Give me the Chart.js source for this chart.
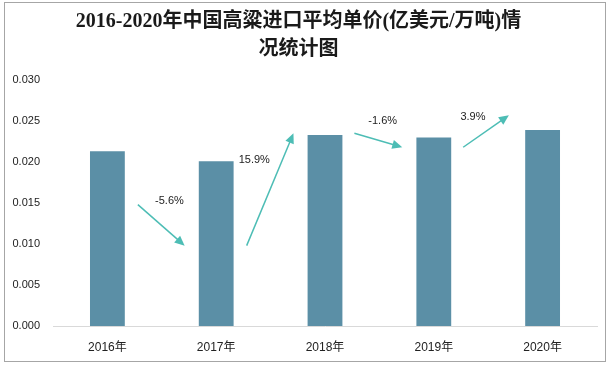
<!DOCTYPE html>
<html>
<head>
<meta charset="utf-8">
<script src="https://cdn.jsdelivr.net/npm/chart.js@4/dist/chart.umd.min.js"></script>
<style>
html,body{margin:0;padding:0;background:#fff;}
#wrap{position:relative;width:612px;height:368px;}
#frame{position:absolute;left:4px;top:2px;width:602px;height:360px;border:1px solid #a6a6a6;box-sizing:border-box;pointer-events:none;}
</style>
</head>
<body>
<div id="wrap"><canvas id="c" width="612" height="368"></canvas><div id="frame"></div></div>
<script>
// ---- data ----
const categories = ["2016年", "2017年", "2018年", "2019年", "2020年"];
const unitPrice = [0.0213, 0.0201, 0.0233, 0.0230, 0.0239];
const growthLabels = ["-5.6%", "15.9%", "-1.6%", "3.9%"];
const yTicks = [0, 0.005, 0.010, 0.015, 0.020, 0.025, 0.030];

// arrow annotation geometry in data units (x = category index, y = value)
const arrowGeom = [
  {x0: 0.28, y0: 0.0148, x1: 0.71, y1: 0.0098, lx: 0.57, ly: 0.0152},
  {x0: 1.28, y0: 0.0098, x1: 1.71, y1: 0.0235, lx: 1.35, ly: 0.0202},
  {x0: 2.27, y0: 0.0235, x1: 2.71, y1: 0.0218, lx: 2.53, ly: 0.0250},
  {x0: 3.27, y0: 0.0218, x1: 3.69, y1: 0.0257, lx: 3.36, ly: 0.0255}
];

const arrowPlugin = {
  id: 'arrows',
  afterDatasetsDraw(chart) {
    const {ctx, scales: {x, y}} = chart;
    const step = x.getPixelForValue(1) - x.getPixelForValue(0);
    const px = v => x.getPixelForValue(0) + v * step;
    ctx.save();
    arrowGeom.forEach((g, i) => {
      const X0 = px(g.x0), Y0 = y.getPixelForValue(g.y0);
      const X1 = px(g.x1), Y1 = y.getPixelForValue(g.y1);
      const ang = Math.atan2(Y1 - Y0, X1 - X0);
      const hl = 10, hw = 4.5;
      ctx.strokeStyle = '#4dbdb5';
      ctx.fillStyle = '#4dbdb5';
      ctx.lineWidth = 1.5;
      ctx.beginPath();
      ctx.moveTo(X0, Y0);
      ctx.lineTo(X1 - (hl - 2) * Math.cos(ang), Y1 - (hl - 2) * Math.sin(ang));
      ctx.stroke();
      ctx.beginPath();
      ctx.moveTo(X1, Y1);
      ctx.lineTo(X1 - hl * Math.cos(ang) + hw * Math.sin(ang), Y1 - hl * Math.sin(ang) - hw * Math.cos(ang));
      ctx.lineTo(X1 - hl * Math.cos(ang) - hw * Math.sin(ang), Y1 - hl * Math.sin(ang) + hw * Math.cos(ang));
      ctx.closePath();
      ctx.fill();
      ctx.fillStyle = '#222';
      ctx.font = '11px "Liberation Sans", "Noto Sans", sans-serif';
      ctx.textAlign = 'center';
      ctx.textBaseline = 'middle';
      ctx.fillText(growthLabels[i], px(g.lx), y.getPixelForValue(g.ly));
    });
    ctx.restore();
  }
};

new Chart(document.getElementById('c'), {
  type: 'bar',
  data: {
    labels: categories,
    datasets: [{
      data: unitPrice,
      backgroundColor: '#5b8fa6',
      borderColor: '#4f8199',
      borderWidth: 0,
      categoryPercentage: 0.64,
      barPercentage: 0.5
    }]
  },
  options: {
    responsive: false,
    animation: false,
    devicePixelRatio: 1,
    layout: {padding: {left: 0, right: 15, top: 8, bottom: 8}},
    plugins: {
      legend: {display: false},
      tooltip: {enabled: false},
      title: {
        display: true,
        text: ['2016-2020年中国高粱进口平均单价(亿美元/万吨)情', '况统计图'],
        color: '#1a1a1a',
        font: {family: '"Liberation Serif", "Noto Sans CJK SC", serif', size: 20, weight: 'bold', lineHeight: 1.4},
        padding: {top: 0, bottom: 16}
      }
    },
    scales: {
      x: {
        grid: {display: false, drawTicks: false},
        border: {display: true, color: '#d9d9d9', width: 1},
        ticks: {color: '#222', font: {family: '"Liberation Sans", "Noto Sans CJK SC", sans-serif', size: 12}, padding: 14},
        afterFit(s) { s.height = 34; }
      },
      y: {
        min: 0, max: 0.03,
        afterBuildTicks(s) { s.ticks = yTicks.map(v => ({value: v})); },
        grid: {display: false, drawTicks: false},
        border: {display: false},
        ticks: {
          color: '#222',
          font: {family: '"Liberation Sans", "Noto Sans", sans-serif', size: 11},
          padding: 13,
          callback: v => Number(v).toFixed(3)
        },
        afterFit(s) { s.width = 53; }
      }
    }
  },
  plugins: [arrowPlugin]
});
</script>
</body>
</html>
